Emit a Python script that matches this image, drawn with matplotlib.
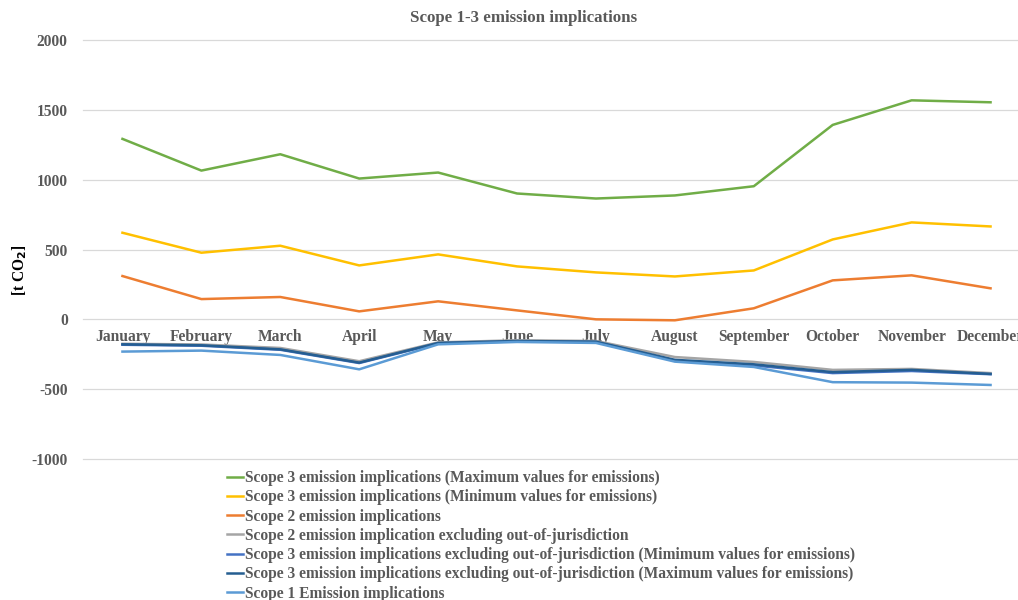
import matplotlib
matplotlib.use("Agg")
import matplotlib.pyplot as plt

# Data
months = ["January", "February", "March", "April", "May", "June", "July",
          "August", "September", "October", "November", "December"]

scope3_max = [1292, 1065, 1182, 1008, 1051, 901, 865, 887, 953, 1392, 1568, 1554]
scope3_min = [620, 477, 527, 386, 465, 379, 336, 307, 350, 572, 694, 665]
scope2 = [310, 145, 160, 57, 129, 64, 0, -7, 79, 279, 315, 222]
scope2_excl = [-175, -180, -205, -300, -165, -150, -155, -270, -305, -362, -355, -385]
scope3_excl_min = [-182, -189, -218, -313, -172, -158, -163, -296, -330, -385, -370, -393]
scope3_excl_max = [-179, -186, -215, -310, -169, -155, -160, -290, -322, -378, -362, -391]
scope1 = [-231, -224, -255, -358, -179, -162, -169, -303, -341, -450, -453, -470]

series = [
    ("Scope 3 emission implications (Maximum values for emissions)", scope3_max, "#70AD47"),
    ("Scope 3 emission implications (Minimum values for emissions)", scope3_min, "#FFC000"),
    ("Scope 2 emission implications", scope2, "#ED7D31"),
    ("Scope 2 emission implication excluding out-of-jurisdiction", scope2_excl, "#A5A5A5"),
    ("Scope 3 emission implications excluding out-of-jurisdiction (Mimimum values for emissions)", scope3_excl_min, "#4472C4"),
    ("Scope 3 emission implications excluding out-of-jurisdiction (Maximum values for emissions)", scope3_excl_max, "#255E91"),
    ("Scope 1 Emission implications", scope1, "#5B9BD5"),
]

plt.rcParams['font.family'] = ['Liberation Serif', 'DejaVu Serif']
plt.rcParams['font.weight'] = 'bold'
plt.rcParams['axes.unicode_minus'] = False

fig = plt.figure(figsize=(10.18, 6.0), dpi=100)
W, H = 1018.0, 600.0
ax = fig.add_axes([83 / W, 1 - 459 / H, (1030 - 83) / W, (459 - 40) / H])

x = list(range(len(months)))
for label, vals, col in series:
    ax.plot(x, vals, color=col, lw=1.8, label=label, solid_joinstyle='round')

ax.set_xlim(-0.5, len(months) - 0.5)
ax.set_ylim(-1000, 2000)
ax.set_yticks(range(-1000, 2001, 500))
ax.yaxis.grid(True, color="#D9D9D9", lw=0.9, clip_on=False)
ax.set_axisbelow(True)

for s in ["top", "right", "left"]:
    ax.spines[s].set_visible(False)
ax.spines["bottom"].set_position(("data", 0))
ax.spines["bottom"].set_visible(False)

fs = 11.2
ax.set_xticks(x)
ax.set_xticklabels(months)
ax.tick_params(axis="both", length=0, labelsize=fs, labelcolor="#595959")
ax.tick_params(axis="x", pad=7)
ax.tick_params(axis="y", pad=11)
for t in ax.get_xticklabels() + ax.get_yticklabels():
    t.set_fontweight("bold")

fig.text(524 / W, 1 - 18 / H, "Scope 1-3 emission implications", ha="center",
         va="center", fontsize=12.2, fontweight="bold", color="#595959")
fig.text(20 / W, 1 - 270 / H, r"[t CO$_\mathbf{2}$]", rotation=90, ha="center",
         va="center", fontsize=fs, fontweight="bold", color="black")

leg = fig.legend(loc="upper left", bbox_to_anchor=(227 / W, 1 - 470 / H),
                 frameon=False, fontsize=fs, handlelength=1.0,
                 handletextpad=0.15, labelspacing=0.21, borderaxespad=0,
                 borderpad=0)
for t in leg.get_texts():
    t.set_color("#595959")
    t.set_fontweight("bold")

plt.savefig("out.png", dpi=100)
